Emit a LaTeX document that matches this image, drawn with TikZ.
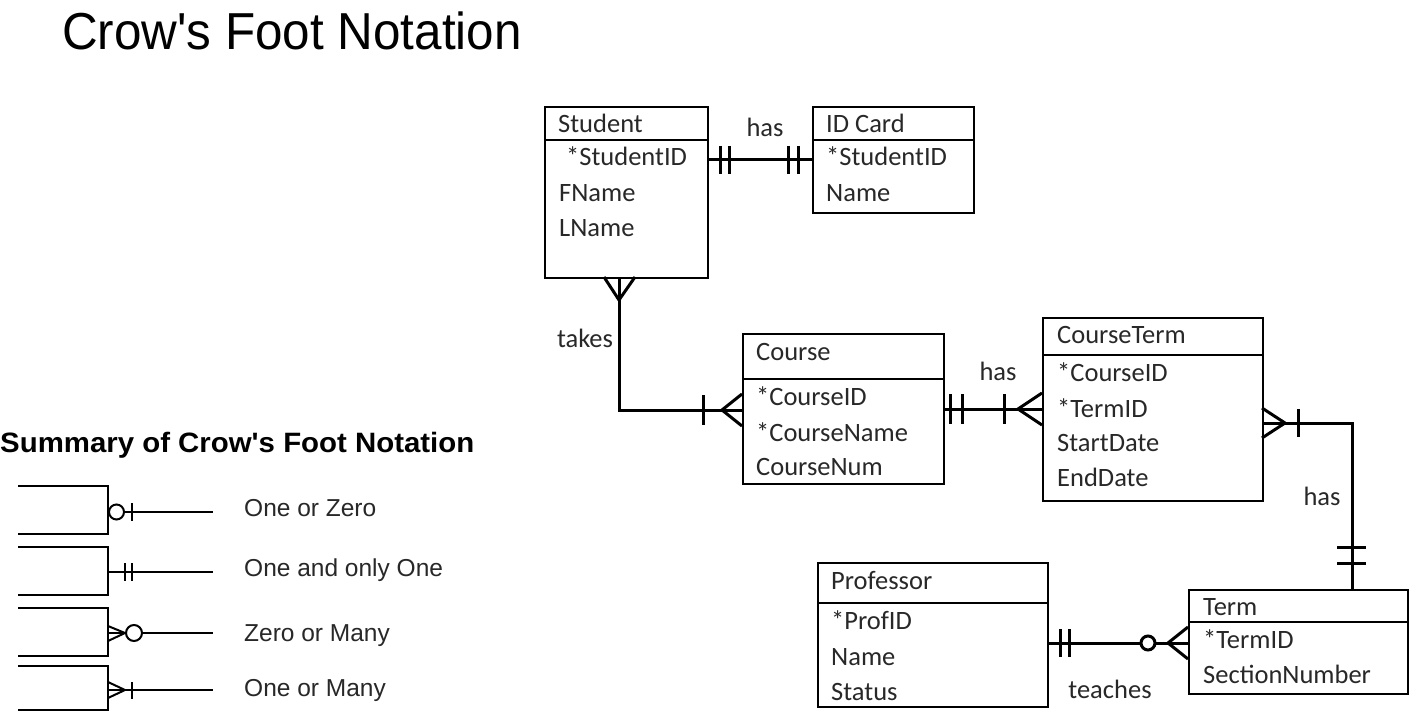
\documentclass[tikz,border=0pt]{standalone}
\usepackage{fontspec}
\usepackage{graphicx}
\setmainfont{Liberation Sans}[Ligatures=TeXOff]
\newfontfamily\calfont{Carlito}[Ligatures=TeXOff]
\definecolor{txt}{RGB}{40,40,40}
\definecolor{legtxt}{RGB}{40,40,40}
\begin{document}
\begin{tikzpicture}[x=1pt,y=-1pt,
  ent/.style={draw, line width=2pt, inner sep=0pt, anchor=north west},
  hdr/.style={line width=2pt},
  conn/.style={line width=3pt},
  mk/.style={line width=3pt},
  lbl/.style={inner sep=0pt, anchor=west, font=\calfont\fontsize{26.5}{30}\selectfont, text=txt, text height=17pt, text depth=0pt},
  rel/.style={inner sep=0pt, font=\calfont\fontsize{26.5}{30}\selectfont, text=txt, text height=17pt, text depth=0pt},
  leg/.style={line width=2pt},
  legt/.style={inner sep=0pt, anchor=west, font=\fontsize{24.5}{28}\selectfont, text=legtxt, text height=17.5pt, text depth=0pt}]
\useasboundingbox (0,0) rectangle (1416,714);
\fill[white] (0,0) rectangle (1416,714);

% titles
\node[inner sep=0pt, anchor=west, text height=37.2pt, text depth=0pt, font=\fontsize{52}{60}\selectfont] (title) at (62,30.5) {\scalebox{0.95}[1]{Crow's Foot Notation}};
\node[inner sep=0pt, anchor=west, text height=20pt, text depth=0pt, font=\bfseries\fontsize{28}{32}\selectfont] (summary) at (0,442) {\scalebox{1.05}[1]{Summary of Crow's Foot Notation}};

% ---------- entities ----------
\node[ent, minimum width=163pt, minimum height=171pt] (student) at (544,106) {};
\draw[hdr] (student.west |- 0,140) -- (student.east |- 0,140);
\node[lbl] (s0) at (558,124) {Student};
\node[lbl] (s1) at (566,157) {*StudentID};
\node[lbl] (s2) at (559,193) {FName};
\node[lbl] (s3) at (559,228) {LName};

\node[ent, minimum width=161pt, minimum height=106pt] (idcard) at (812,106) {};
\draw[hdr] (idcard.west |- 0,140) -- (idcard.east |- 0,140);
\node[lbl] (i0) at (826,124) {ID Card};
\node[lbl] (i1) at (826,157) {*StudentID};
\node[lbl] (i2) at (826,193) {Name};

\node[ent, minimum width=201pt, minimum height=150pt] (course) at (742,333) {};
\draw[hdr] (course.west |- 0,379) -- (course.east |- 0,379);
\node[lbl] (c0) at (756,352) {Course};
\node[lbl] (c1) at (756,397) {*CourseID};
\node[lbl] (c2) at (756,433) {*CourseName};
\node[lbl] (c3) at (756,467) {CourseNum};

\node[ent, minimum width=220pt, minimum height=183pt] (cterm) at (1042,317) {};
\draw[hdr] (cterm.west |- 0,355) -- (cterm.east |- 0,355);
\node[lbl] (t0) at (1057,335) {CourseTerm};
\node[lbl] (t1) at (1057,373) {*CourseID};
\node[lbl] (t2) at (1057,409) {*TermID};
\node[lbl] (t3) at (1057,443) {StartDate};
\node[lbl] (t4) at (1057,478) {EndDate};

\node[ent, minimum width=230pt, minimum height=144pt] (prof) at (817,562) {};
\draw[hdr] (prof.west |- 0,603) -- (prof.east |- 0,603);
\node[lbl] (p0) at (831,581) {Professor};
\node[lbl] (p1) at (831,621) {*ProfID};
\node[lbl] (p2) at (831,657) {Name};
\node[lbl] (p3) at (831,692) {Status};

\node[ent, minimum width=219pt, minimum height=104pt] (term) at (1188,589) {};
\draw[hdr] (term.west |- 0,622) -- (term.east |- 0,622);
\node[lbl] (m0) at (1203,607) {Term};
\node[lbl] (m1) at (1203,640) {*TermID};
\node[lbl] (m2) at (1203,675) {SectionNumber};

% relationship labels
\node[rel] (r1) at (765,128) {has};
\node[rel] (r2) at (585,339) {takes};
\node[rel] (r3) at (998,372) {has};
\node[rel] (r4) at (1322,497) {has};
\node[rel] (r5) at (1110,690) {teaches};

% ---------- connectors ----------
% Student -- ID Card
\draw[conn] (student.east |- 0,160) -- (idcard.west |- 0,160);
\draw[mk] (720,146) -- (720,174) (729,146) -- (729,174) (788,146) -- (788,174) (798,146) -- (798,174);

% Student -- Course
\coordinate (sc) at (619,410);
\draw[conn] (student.south -| 619,0) -- (sc) -- (course.west |- sc);
\draw[mk, line join=miter] (604,277) -- (619,300) -- (635,277);
\draw[mk] (703,395) -- (703,425);
\draw[mk] (742,394) -- (722,410) -- (742,426);

% Course -- CourseTerm
\draw[conn] (course.east |- 0,409) -- (cterm.west |- 0,409);
\draw[mk] (950,394) -- (950,424) (962,394) -- (962,424) (1004,394) -- (1004,424);
\draw[mk] (1042,393) -- (1018,409) -- (1042,425);

% CourseTerm -- Term
\coordinate (ct) at (1352,423);
\draw[conn] (cterm.east |- ct) -- (ct) -- (term.north -| ct);
\draw[mk] (1262,408) -- (1285,423) -- (1262,438);
\draw[mk] (1298,409) -- (1298,437);
\draw[mk] (1337,547) -- (1366,547) (1337,563) -- (1366,563);

% Professor -- Term
\draw[conn] (prof.east |- 0,643) -- (1141,643);
\draw[conn] (1155,643) -- (term.west |- 0,643);
\draw[mk] (1148,643) circle (7);
\draw[mk] (1060,629) -- (1060,657) (1069,629) -- (1069,657);
\draw[mk] (1188,627) -- (1168,643) -- (1188,659);

% ---------- legend ----------
% One or Zero
\draw[leg] (18,486) -- (108,486) -- (108,534) -- (18,534);
\draw[leg] (116.5,512) circle (7.5);
\draw[leg] (124,512) -- (213,512);
\draw[leg] (132,503) -- (132,521);
\node[legt] (l1) at (244,508) {One or Zero};
% One and only One
\draw[leg] (18,547) -- (108,547) -- (108,595) -- (18,595);
\draw[leg] (108,572) -- (213,572);
\draw[leg] (125,563) -- (125,581) (132,563) -- (132,581);
\node[legt] (l2) at (244,568) {One and only One};
% Zero or Many
\draw[leg] (18,608) -- (108,608) -- (108,656) -- (18,656);
\draw[leg] (108,626) -- (125,633) -- (108,641);
\draw[leg] (108,633) -- (125,633);
\draw[leg] (134,633) circle (8);
\draw[leg] (142,633) -- (213,633);
\node[legt] (l3) at (244,633) {Zero or Many};
% One or Many
\draw[leg] (18,666) -- (108,666) -- (108,710) -- (18,710);
\draw[leg] (108,682) -- (125,690) -- (108,698);
\draw[leg] (108,690) -- (213,690);
\draw[leg] (132,682) -- (132,699);
\node[legt] (l4) at (244,688) {One or Many};
\end{tikzpicture}
\end{document}
